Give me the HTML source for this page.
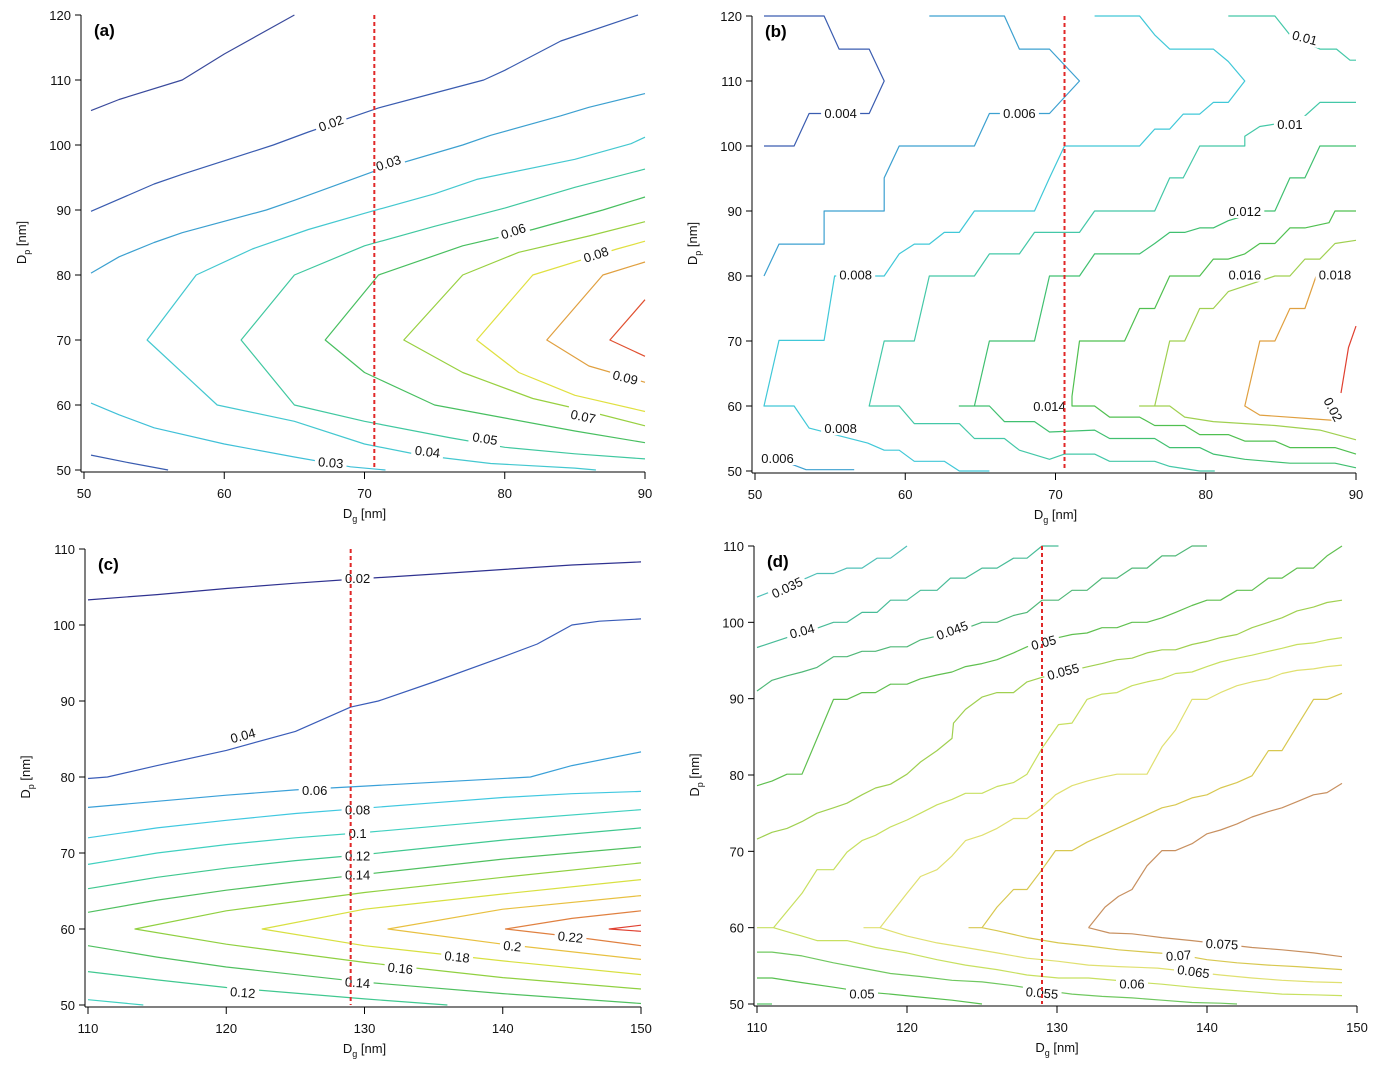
<!DOCTYPE html>
<html><head><meta charset="utf-8"><style>
html,body{margin:0;padding:0;background:#fff;}
svg{display:block;font-family:"Liberation Sans",Arial,sans-serif;}
</style></head><body>
<svg id="chart" width="1382" height="1071" viewBox="0 0 1382 1071" xmlns="http://www.w3.org/2000/svg"></svg>
<script>
// ---------- Panel (a) data ----------
const aLevels = ["0.01","0.02","0.03","0.03","0.04","0.05","0.06","0.07","0.08","0.09","0.1"];
const aColors = ["#3a4a9c","#3a5cb0","#3ca0d0","#40c0d8","#44c8d0","#40c8a0","#48bf60","#98d040","#e0e040","#e0a040","#e05030"];
const aLines = [
 [[50.5,105.3],[52.5,107],[57,110],[60,114],[65,120]],
 [[50.5,89.8],[55,94],[57,95.5],[63.5,100],[66,102],[71,105.7],[75,108],[78.5,110],[80,111.5],[84,116],[89.5,120]],
 [[50.5,80.3],[52.5,82.8],[55,85],[57,86.5],[63,90],[65,91.5],[71,96.2],[77,100],[79,101.5],[84,104.5],[86,105.8],[90,107.9]],
 [[50.5,60.3],[52.5,58.5],[55,56.5],[60,54],[65,52],[69,50.5],[71.5,50]],
 [[90,101.2],[89,100.2],[85,97.8],[78,94.7],[75,92.5],[70,89.5],[66,87],[62,84],[58,80],[54.5,70],[59.5,60],[65,57.5],[70,54],[74,52.3],[79,51],[85,50.3],[86.5,50]],
 [[90,96.3],[85,93.5],[80,90.3],[75,87.5],[70,84.5],[65,80],[61.2,70],[65,60],[70,57.5],[76,55],[80,53.5],[85,52.5],[90,51.7]],
 [[90,92],[87,90],[82,87],[77,84.5],[71,80],[67.2,70],[70,65],[75,60],[80,58],[85,56],[90,54.2]],
 [[90,88.2],[86,86],[81,83.5],[77,80],[72.8,70],[77,65],[82,61],[86,59],[90,56.8]],
 [[90,85.2],[88,84],[82,80],[78,70],[81,65],[85,61.5],[90,59]],
 [[90,82],[87,80],[83,70],[86,66],[90,63.5]],
 [[90,76.2],[87.5,70],[90,67.5]],
 [[50.5,52.3],[53,51.2],[56,50]]
];
const aExtraColor = "#3a5cb0";
const aLabelText = ["0.02","0.03","0.06","0.08","0.09","0.07","0.05","0.04","0.03"];
const aLabelPos = [[67.6,103.4],[71.7,97.3],[80.6,86.8],[86.5,83.2],[88.6,64.3],[85.6,58.3],[78.6,54.9],[74.5,52.9],[67.6,51.2]];
const aLabelRot = [-20,-18,-18,-18,14,12,9,7,5];

// ---------- Panel (b) data ----------
const bColors = ["#3a5cb0","#3ca0d0","#40c8d8","#44c8a8","#40c070","#50c050","#a0d050","#e8e840","#e0a040","#e04030","#3ca0d0","#44c8a8"];
const bLines = [
 [[50.6,120],[54.6,120],[55.6,114.9],[57.6,114.9],[58.6,110],[57.6,105],[53.6,105],[52.6,100],[50.6,100]],
 [[61.6,120],[66.6,120],[67.6,114.9],[69.6,114.9],[71.6,110],[69.6,105],[65.6,105],[64.6,100],[59.6,100],[58.6,95.1],[58.6,90],[54.6,90],[54.6,84.9],[51.6,84.9],[50.6,80]],
 [[72.6,120],[75.6,120],[76.6,117.1],[77.6,114.9],[80.5,114.9],[81.5,113],[82.6,110],[81.5,106.7],[80.5,106.7],[79.6,104.9],[78.5,104.9],[77.6,102.6],[76.6,102.6],[75.6,100],[70.6,100],[69.6,95.1],[68.6,90],[64.6,90],[63.6,86.7],[62.6,86.7],[61.6,84.9],[60.6,84.9],[59.6,83.4],[58.6,80],[55.3,80],[54.6,70.1],[51.6,70.1],[50.6,60],[52.6,60],[53.6,56.6],[57.5,54.3],[58.6,53.2],[59.6,53.2],[60.6,51.5],[62.6,51.5],[63.6,50],[65.6,50]],
 [[90,106.7],[87.6,106.7],[86.3,104],[83.6,103],[82.6,101.5],[82.6,100],[79.6,100],[78.5,95.1],[77.6,95.1],[76.6,90],[72.6,90],[71.6,86.7],[68.6,86.7],[67.6,83.4],[65.6,83.4],[64.6,80],[61.6,80],[60.6,70],[58.6,70],[57.6,60],[59.6,60],[60.6,57.3],[63.6,57.3],[64.6,55],[66.6,55],[67.6,53.2],[69.6,51.8],[70.6,52.6],[72.6,52.6],[73.6,51.5],[76.6,51.5],[77.6,50.7],[79.6,50],[80.6,50]],
 [[90,100],[87.6,100],[86.6,95.1],[85.6,95.1],[84.6,90],[83.6,90],[81.5,88.5],[80.5,87.4],[79.6,87.4],[78.6,86.7],[77.6,86.7],[76.6,85],[75.6,83.4],[72.6,83.4],[71.6,80],[69.6,80],[68.6,70],[65.6,70],[64.6,60],[63.6,60],[65.6,60],[66.6,57.6],[68.6,57.6],[69.6,56],[72.6,56.3],[73.6,55],[76.6,55],[77.6,53.6],[79.6,53.6],[80.5,52.6],[82.6,51.8],[85.6,51.2],[88.6,51.2],[90,50.5]],
 [[90,90],[88.6,90],[88.2,88.2],[86.6,87.4],[85.6,87.4],[84.6,85],[83.6,85],[82.6,83.4],[81.5,82.6],[80.5,82.6],[79.6,80],[77.6,80],[76.6,75],[75.6,75],[74.6,70],[71.6,70],[71.1,61.5],[71.1,60],[72.6,60],[73.6,58.3],[75.6,58.3],[76.6,57],[78.6,57],[79.6,55.6],[81.5,55.6],[82.6,54.6],[84.6,54.6],[85.6,53.6],[88.6,53.6],[90,52.6]],
 [[90,85.5],[88.6,85],[87.6,82.6],[86.6,82.6],[85.6,80],[84.6,80],[81.5,77.6],[80.5,75],[79.6,75],[78.6,70],[77.6,70],[76.6,60],[75.6,60],[77.6,60],[78.6,58.3],[80.5,57.6],[84.6,57],[87.6,56.3],[90,54.8]],
 [[90,85.5],[90,85.5]],
 [[87.5,81],[86.6,75],[85.6,75],[84.6,70],[83.6,70],[82.6,60],[83.6,58.6],[89,57.7]],
 [[90,72.3],[89.5,69],[89,62]],
 [[51,52.3],[53.4,50.2],[56.6,50.2]],
 [[81.5,120],[84.6,120],[85.6,117.1],[87.6,114.9],[88.7,114.9],[89.6,113.2],[90,113.2]]
];
const bLabelText = ["0.004","0.006","0.01","0.01","0.012","0.008","0.016","0.018","0.014","0.008","0.006","0.02"];
const bLabelPos = [[55.7,105.1],[67.6,105.1],[85.6,103.4],[86.6,116.7],[82.6,90],[56.7,80.2],[82.6,80.2],[88.6,80.2],[69.6,60],[55.7,56.6],[51.5,52],[88.5,59.5]];
const bLabelRot = [0,0,0,15,0,0,0,0,0,0,0,62];

// ---------- Panel (c) data ----------
const cColors = ["#2f3290","#3a5cb8","#3aa0d8","#40c8e0","#40d0c0","#40c890","#50c060","#90d040","#d8e040","#e8c040","#e08040","#e04030","#50c060","#40c890","#40d0c0"];
const cLines = [
 [[110,103.3],[115,104],[120,104.8],[125,105.5],[129,106],[135,106.7],[140,107.3],[145,107.9],[150,108.3]],
 [[110,79.8],[111.4,80],[115,81.5],[120,83.5],[125,86],[129,89.2],[131,90],[135,92.5],[140,95.8],[142.5,97.5],[145,100],[147,100.5],[150,100.8]],
 [[110,76],[115,76.8],[120,77.6],[125,78.3],[130,78.8],[135,79.3],[142,80],[145,81.5],[150,83.3]],
 [[110,72],[115,73.3],[120,74.3],[125,75.2],[130,75.9],[135,76.6],[140,77.3],[145,77.8],[150,78.1]],
 [[110,68.5],[115,70],[120,71.1],[125,72],[130,72.7],[140,74.3],[150,75.7]],
 [[110,65.3],[115,66.8],[120,68],[125,69],[130,69.8],[140,71.7],[150,73.3]],
 [[110,62.2],[115,63.8],[120,65.1],[125,66.2],[130,67.2],[140,69.2],[150,70.8]],
 [[150,68.7],[140,66.8],[130,64.8],[120,62.4],[113.4,60],[120,58],[130,55.6],[140,53.6],[150,52.1]],
 [[150,66.5],[140,64.6],[130,62.6],[122.6,60],[130,57.8],[140,55.8],[150,54]],
 [[150,64.4],[140,62.6],[131.7,60],[140,58],[150,56]],
 [[150,62.4],[145,61.4],[140.2,60],[145,59],[150,57.8]],
 [[150,60.5],[147.7,60],[150,59.7]],
 [[110,57.8],[115,56.3],[120,55],[130,53],[140,51.5],[150,50.2]],
 [[110,54.4],[115,53.3],[120,52.3],[130,50.8],[136,50]],
 [[110,50.7],[114,50]]
];
const cLabelText = ["0.02","0.04","0.06","0.08","0.1","0.12","0.14","0.12","0.14","0.16","0.18","0.2","0.22"];
const cLabelPos = [[129.5,106.2],[121.2,85.5],[126.4,78.3],[129.5,75.7],[129.5,72.6],[129.5,69.7],[129.5,67.2],[121.2,51.7],[129.5,53],[132.6,54.9],[136.7,56.4],[140.7,57.8],[144.9,59]];
const cLabelRot = [0,-15,0,0,0,0,0,5,4,6,6,6,6];

// ---------- Panel (d) data ----------
const dColors = ["#50c0b8","#48bc98","#50b878","#60c050","#a0d050","#c8e060","#e0e070","#d8c850","#c89060","#c89060","#d8c850","#e0e070","#c8e060","#70c860","#58c050","#50c060"];
const dLines = [
 [[110,103.3],[110.9,104],[113.3,105.8],[114,106.4],[115.1,106.4],[116,107.1],[117,107.1],[118,108.4],[118.9,108.4],[120,110]],
 [[110,96.7],[112,98],[114.1,99.3],[115.1,100],[116,100],[117,101.3],[118,101.3],[118.9,102.9],[120,102.9],[120.9,104.2],[122,104.2],[122.9,105.8],[123.9,105.8],[125,107.1],[126,107.1],[127.1,108.4],[128,108.4],[129,110],[130.1,110]],
 [[110,91],[111,92.4],[112,93],[113,93.5],[114,94.1],[115.1,95.5],[116,95.5],[117,96.2],[117.9,96.2],[118.9,96.8],[120,96.8],[120.9,97.7],[122,98.2],[124.3,99.5],[125,100],[126,100],[127.1,100.9],[128,101.3],[129,102.9],[130.1,102.9],[131,104.2],[132,104.2],[133,105.8],[134,105.8],[135,107.1],[136,107.1],[137,108.7],[137.9,108.7],[139,110],[140,110]],
 [[110,78.6],[111,79.2],[112,80.1],[113,80.1],[115.1,89.9],[116,89.9],[117,90.8],[117.9,90.8],[118.9,91.9],[120,91.9],[120.9,92.6],[122,93.1],[123,93.5],[123.9,94.2],[125,94.6],[126,95.1],[127.1,96],[128,96.8],[130.1,98],[131,98.4],[132,98.6],[133,99.3],[134,99.3],[135,100],[136,100],[137,100.6],[137.9,101.3],[139,102.2],[140,102.9],[140.9,102.9],[142,104.2],[143,104.2],[144.1,105.8],[145,105.8],[146,107.1],[147.1,107.1],[148,108.7],[149,110]],
 [[110,71.6],[111,72.5],[112,73],[113,73.9],[114,75],[115.1,75.7],[116,76.3],[117,77.4],[117.9,78.3],[118.9,78.8],[120,80.1],[120.9,81.7],[122,83.2],[123,84.8],[123.1,86.8],[123.9,88.6],[125,90.2],[126,90.8],[127.1,90.8],[128,92.2],[129,92.8],[132.1,94.2],[133,94.6],[134,95.1],[135,95.3],[136,96],[137,96.4],[137.9,96.4],[139,97.1],[140,97.5],[140.9,98],[142,98.4],[143,99.3],[144.1,100],[145,100.6],[146,101.5],[147.1,102],[148,102.6],[149,102.9]],
 [[111.1,60],[113,64.5],[114,67.6],[115.1,67.6],[116,69.9],[117,71.4],[117.9,72.1],[118.9,73.2],[120,74.1],[120.9,75],[122,76.1],[123,76.8],[123.9,77.6],[125,77.6],[126,78.5],[127.1,79],[128,80.1],[129,83.5],[130.1,86.6],[131,86.8],[132,89.9],[133,90.6],[134,90.8],[135,91.7],[136,92.2],[137,92.6],[137.9,93.3],[139,93.5],[140,94.2],[140.9,94.8],[142,95.3],[143,95.7],[144.1,96.2],[145,96.6],[146,97.1],[147.1,97.3],[148,97.7],[149,98]],
 [[118.2,60],[120,64.5],[120.9,66.7],[122,67.6],[123,69.4],[123.9,71.4],[125,72.1],[126,73],[127.1,74.3],[128,74.3],[129,75.7],[129.9,77.4],[131,78.6],[132,79.2],[133,79.7],[134,80.1],[136,80.1],[137,83.7],[137.9,85.9],[139,89.9],[140,89.9],[140.9,90.8],[142,91.7],[143,92.2],[144.1,92.6],[145,93.3],[146,93.7],[147.1,93.9],[148,94.2],[149,94.4]],
 [[125,60],[126,62.7],[127.1,65],[128,65],[129,67.6],[129.9,70.1],[131,70.1],[132,71.2],[133,72.1],[134,73],[135,73.9],[136,74.8],[137,75.7],[137.9,76.1],[139,77],[140,77.4],[140.9,78.3],[142,79],[143,79.9],[144.1,83.2],[145,83.2],[146,86.4],[147.1,89.9],[148,89.9],[149,90.7]],
 [[132.1,60],[133.2,62.7],[134.1,64.1],[135,65],[136,68.1],[137,70.1],[137.9,70.1],[139,71],[140,72.3],[140.9,72.8],[142,73.6],[143,74.5],[144.1,75.2],[145,75.7],[146,76.5],[147.1,77.4],[148,77.7],[149,78.9]],
 [[132.1,60],[133.5,59.3],[135,59.2],[137,58.7],[139,58.3],[143,57.4],[145,57.1],[147.1,56.7],[149,56.2]],
 [[124.1,60],[125,60],[126,59.6],[128,58.7],[130.1,58],[132.1,57.6],[134.1,57.1],[136,56.8],[138,56.5],[140,55.8],[142,55.4],[144.1,55.1],[146,54.9],[149,54.5]],
 [[117.1,60],[118.2,60],[120,58.9],[122,58],[123.9,57.4],[126,56.7],[128,56],[130.1,55.6],[132.1,55.1],[134.1,54.9],[136.7,54.7],[139,54.2],[140.9,53.8],[143,53.4],[145,53.1],[147.1,52.9],[149,52.8]],
 [[110,60],[111.1,60],[113,58.9],[114,58.3],[116,58.3],[117.9,57.4],[120,56.7],[122,55.8],[123.9,55.1],[126,54.5],[128,53.8],[130.1,53.4],[132.1,53.4],[135.1,52.9],[137,52.6],[139,52.2],[140.9,51.9],[143,51.6],[145,51.3],[147.1,51.2],[149,51.1]],
 [[110,56.8],[111,56.8],[113,56.3],[115.1,55.4],[117,54.7],[118.9,54],[120.9,53.6],[123,53.1],[125,52.9],[127.1,52.4],[129.1,51.8],[131,51.3],[133,51],[135,50.8],[137,50.5],[139,50.2],[140.9,50.1],[142,50]],
 [[110,53.4],[111,53.4],[113,52.8],[115.1,52.2],[117.1,51.6],[118.9,51.3],[120.9,50.9],[123,50.5],[125,50]],
 [[110,50],[111,50]]
];
const dLabelText = ["0.035","0.04","0.045","0.05","0.055","0.075","0.07","0.065","0.06","0.055","0.05"];
const dLabelPos = [[112,104.6],[113,98.9],[123,99],[129.1,97.4],[130.4,93.6],[141,57.9],[138.1,56.4],[139.1,54.3],[135,52.7],[129,51.5],[117,51.4]];
const dLabelRot = [-25,-15,-20,-15,-15,3,-4,8,0,5,0];

// ---------- Panel layout ----------
const xTicksAB = [50,60,70,80,90];
const yTicksAB = [50,60,70,80,90,100,110,120];
const xTicksCD = [110,120,130,140,150];
const yTicksCD = [50,60,70,80,90,100,110];
const markerX = [70.7, 70.6, 129, 129];

const NS = "http://www.w3.org/2000/svg";
const svg = document.getElementById('chart');
function mk(tag, attrs, parent){
  const e = document.createElementNS(NS, tag);
  for (const k in attrs) e.setAttribute(k, attrs[k]);
  (parent||svg).appendChild(e);
  return e;
}

const panels = [
 {id:'a', px0:84, px1:645, py0:470, py1:15, xmin:50, xmax:90, ymin:50, ymax:120, xt:xTicksAB, yt:yTicksAB, lines:aLines, colors:aColors.concat([aExtraColor]), lt:aLabelText, lp:aLabelPos, lr:aLabelRot, mx:markerX[0]},
 {id:'b', px0:755, px1:1356, py0:471, py1:16, xmin:50, xmax:90, ymin:50, ymax:120, xt:xTicksAB, yt:yTicksAB, lines:bLines, colors:bColors, lt:bLabelText, lp:bLabelPos, lr:bLabelRot, mx:markerX[1]},
 {id:'c', px0:88, px1:641, py0:1005, py1:549, xmin:110, xmax:150, ymin:50, ymax:110, xt:xTicksCD, yt:yTicksCD, lines:cLines, colors:cColors, lt:cLabelText, lp:cLabelPos, lr:cLabelRot, mx:markerX[2]},
 {id:'d', px0:757, px1:1357, py0:1004, py1:546, xmin:110, xmax:150, ymin:50, ymax:110, xt:xTicksCD, yt:yTicksCD, lines:dLines, colors:dColors, lt:dLabelText, lp:dLabelPos, lr:dLabelRot, mx:markerX[3]}
];

panels.forEach(p => {
  const g = mk('g', {});
  
  
  const X = v => p.px0 + (v - p.xmin) / (p.xmax - p.xmin) * (p.px1 - p.px0);
  const Y = v => p.py0 - (v - p.ymin) / (p.ymax - p.ymin) * (p.py0 - p.py1);

  // contour lines
  p.lines.forEach((ln, i) => {
    const pl = mk('polyline', {points: ln.map(q => X(q[0]).toFixed(1) + ',' + Y(q[1]).toFixed(1)).join(' '), fill:'none', stroke:p.colors[i] || '#40c0a0', 'stroke-width':1.2, 'stroke-linejoin':'round'}, g);
    
    
  });

  // contour labels
  p.lt.forEach((t, i) => {
    const x = X(p.lp[i][0]), y = Y(p.lp[i][1]);
    const lg = mk('g', {transform:'translate(' + x.toFixed(1) + ',' + y.toFixed(1) + ') rotate(' + p.lr[i] + ')'}, g);
    
    
    const w = t.length * 7 + 4;
    mk('rect', {x:-w/2, y:-8, width:w, height:15, fill:'#fff'}, lg);
    const tx = mk('text', {x:0, y:5, 'text-anchor':'middle', 'font-size':13, fill:'#111'}, lg);
    tx.textContent = t;
  });

  // red dashed marker
  const dl = mk('line', {x1:X(p.mx), x2:X(p.mx), y1:p.py1, y2:p.py0, stroke:'#e02828', 'stroke-width':2, 'stroke-dasharray':'4,3'}, g);
  
  

  // axes
  const ya = mk('line', {x1:p.px0-3, x2:p.px0-3, y1:p.py1, y2:p.py0+2, stroke:'#000', 'stroke-width':1}, g);
  
  
  const xa = mk('line', {x1:p.px0-3, x2:p.px1, y1:p.py0+2, y2:p.py0+2, stroke:'#000', 'stroke-width':1}, g);
  
  

  p.xt.forEach(v => {
    mk('line', {x1:X(v), x2:X(v), y1:p.py0+2, y2:p.py0+9, stroke:'#000'}, g);
    const t = mk('text', {x:X(v), y:p.py0+28, 'text-anchor':'middle', 'font-size':13, fill:'#111'}, g);
    
    
    t.textContent = v;
  });
  p.yt.forEach(v => {
    mk('line', {x1:p.px0-9, x2:p.px0-3, y1:Y(v), y2:Y(v), stroke:'#000'}, g);
    const t = mk('text', {x:p.px0-13, y:Y(v)+5, 'text-anchor':'end', 'font-size':13, fill:'#111'}, g);
    
    
    t.textContent = v;
  });

  // axis titles
  const xt = mk('text', {x:(p.px0+p.px1)/2, y:p.py0+48, 'text-anchor':'middle', 'font-size':13, fill:'#111'}, g);
  
  
  xt.innerHTML = 'D<tspan font-size="9" dy="4">g</tspan><tspan dy="-4"> [nm]</tspan>';
  const cy = (p.py0+p.py1)/2;
  const yt = mk('text', {x:0, y:0, 'text-anchor':'middle', 'font-size':13, fill:'#111', transform:'translate(' + (p.px0-58) + ',' + cy + ') rotate(-90)'}, g);
  
  
  yt.innerHTML = 'D<tspan font-size="9" dy="4">p</tspan><tspan dy="-4"> [nm]</tspan>';

  // panel letter
  const pt = mk('text', {x:p.px0+10, y:p.py1+21, 'font-size':17, 'font-weight':'bold', fill:'#000'}, g);
  
  
  pt.textContent = '(' + p.id + ')';
});
</script>
</body></html>
